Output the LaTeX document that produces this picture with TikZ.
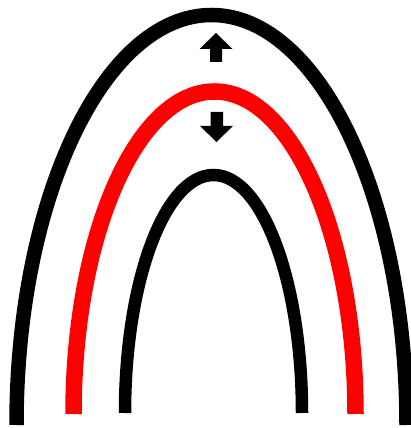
\documentclass[tikz,border=0pt]{standalone}
\begin{document}
\begin{tikzpicture}[x=1pt,y=1pt,
  archline/.style={line cap=butt},
  blockarrow/.style={fill=black,draw=none}]
\useasboundingbox (0,0) rectangle (411,428);
% outer black arch
\draw[archline,black,line width=14.5pt] (16.5,3) arc[start angle=180,end angle=0,x radius=195,y radius=410];
% red arch
\draw[archline,red,line width=16.5pt] (73.5,14) arc[start angle=180,end angle=0,x radius=141,y radius=322.5];
% inner black arch
\draw[archline,black,line width=12.5pt] (125,15) arc[start angle=180,end angle=0,x radius=88.5,y radius=238];
% up arrow
\fill[blockarrow] (216,395) -- (232.5,379) -- (222,379) -- (222,366) -- (210,366) -- (210,379) -- (199.5,379) -- cycle;
% down arrow
\fill[blockarrow] (216.5,286) -- (233,302) -- (223,302) -- (223,316) -- (210.5,316) -- (210.5,302) -- (200,302) -- cycle;
\end{tikzpicture}
\end{document}
